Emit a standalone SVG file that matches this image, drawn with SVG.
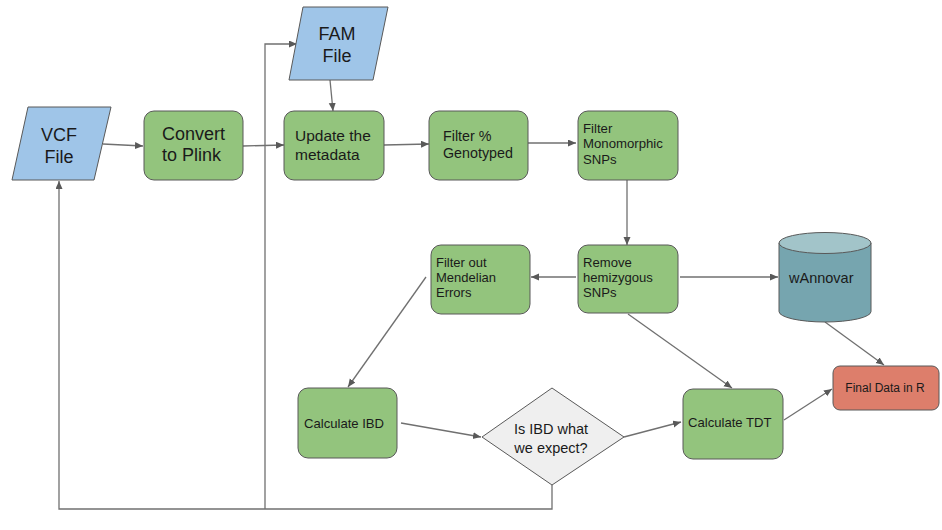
<svg xmlns="http://www.w3.org/2000/svg" width="942" height="530" viewBox="0 0 942 530">
<defs>
<marker id="arr" markerWidth="9" markerHeight="8" refX="8" refY="3.5" orient="auto" markerUnits="userSpaceOnUse">
<path d="M0,0 L8,3.5 L0,7 z" fill="#595959"/>
</marker>
<style>
.proc{fill:#93c47d;stroke:#595959;stroke-width:1}
.io{fill:#9fc5e8;stroke:#595959;stroke-width:1}
.dec{fill:#efefef;stroke:#595959;stroke-width:1}
.t{font-family:"Liberation Sans",Arial,sans-serif;fill:#1a1a1a}
.c{stroke:#707070;stroke-width:1.3;fill:none;marker-end:url(#arr)}
</style>
</defs>
<rect width="942" height="530" fill="#ffffff"/>
<g id="connectors">
<path class="c" d="M103,144 L143,146"/>
<path class="c" d="M243,146 L284,145"/>
<path class="c" d="M384,145 L429,144"/>
<path class="c" d="M525,143 L576,143"/>
<path class="c" d="M330,80 L333,111"/>
<path class="c" d="M627,177 L627,245"/>
<path class="c" d="M576,277 L531,277"/>
<path class="c" d="M680,277 L778,277"/>
<path class="c" d="M426,277 L348,387"/>
<path class="c" d="M628,314 L732,388"/>
<path class="c" d="M825,322 L884,365"/>
<path class="c" d="M401,423 L481,437"/>
<path class="c" d="M624,437 L681,422"/>
<path class="c" d="M784,420 L832,389"/>
<path class="c" d="M552,485 V509 H59 V181"/>
<path class="c" d="M265,509 V44 H297"/>
</g>
<g id="vcf">
<polygon class="io" points="28,107 111,107 94,180 12,180"/>
<text class="t" font-size="18" text-anchor="middle"><tspan x="59" y="141">VCF</tspan><tspan x="59" y="163">File</tspan></text>
</g>
<g id="convert">
<rect class="proc" x="144" y="111" width="99" height="69" rx="10"/>
<text class="t" font-size="18"><tspan x="162" y="139.5">Convert</tspan><tspan x="162" y="160.5">to Plink</tspan></text>
</g>
<g id="fam">
<polygon class="io" points="303,7 388,7 373,80 289,80"/>
<text class="t" font-size="18" text-anchor="middle"><tspan x="337" y="40">FAM</tspan><tspan x="337" y="62">File</tspan></text>
</g>
<g id="update">
<rect class="proc" x="284" y="111" width="100" height="69" rx="10"/>
<text class="t" font-size="15.5"><tspan x="295" y="141">Update the</tspan><tspan x="295" y="159.5">metadata</tspan></text>
</g>
<g id="filter-genotyped">
<rect class="proc" x="429" y="111" width="99" height="69" rx="10"/>
<text class="t" font-size="14.3"><tspan x="443" y="141">Filter %</tspan><tspan x="443" y="158">Genotyped</tspan></text>
</g>
<g id="filter-mono">
<rect class="proc" x="578" y="111" width="100" height="69" rx="10"/>
<text class="t" font-size="13.2"><tspan x="583" y="132.5">Filter</tspan><tspan x="583" y="148">Monomorphic</tspan><tspan x="583" y="163.5">SNPs</tspan></text>
</g>
<g id="remove-hemi">
<rect class="proc" x="578" y="245" width="100" height="68" rx="10"/>
<text class="t" font-size="13.1"><tspan x="583" y="266.5">Remove</tspan><tspan x="583" y="281.5">hemizygous</tspan><tspan x="583" y="297">SNPs</tspan></text>
</g>
<g id="filter-mendelian">
<rect class="proc" x="431" y="245" width="99" height="69" rx="10"/>
<text class="t" font-size="13"><tspan x="436" y="266.5">Filter out</tspan><tspan x="436" y="281.5">Mendelian</tspan><tspan x="436" y="297">Errors</tspan></text>
</g>
<g id="wannovar">
<path d="M779,243 V311.5 A46,10.5 0 0 0 871,311.5 V243 Z" fill="#76a5af" stroke="#595959" stroke-width="1"/>
<ellipse cx="825" cy="243" rx="46" ry="10.5" fill="#a2c4c9" stroke="#595959" stroke-width="1"/>
<text class="t" font-size="14.5" x="789" y="283">wAnnovar</text>
</g>
<g id="calc-ibd">
<rect class="proc" x="298" y="388" width="99" height="70" rx="10"/>
<text class="t" font-size="13.1" x="304" y="428">Calculate IBD</text>
</g>
<g id="decision">
<polygon class="dec" points="552,388 624,437 552,485 482,437"/>
<text class="t" font-size="14.5" text-anchor="middle"><tspan x="551" y="434">Is IBD what</tspan><tspan x="551" y="453">we expect?</tspan></text>
</g>
<g id="calc-tdt">
<rect class="proc" x="683" y="389" width="100" height="70" rx="10"/>
<text class="t" font-size="13.1" x="688" y="427">Calculate TDT</text>
</g>
<g id="final">
<rect x="833" y="366" width="106" height="44" rx="7" fill="#dd7e6b" stroke="#595959" stroke-width="1"/>
<text class="t" font-size="12" text-anchor="middle" x="885" y="392">Final Data in R</text>
</g>
</svg>
